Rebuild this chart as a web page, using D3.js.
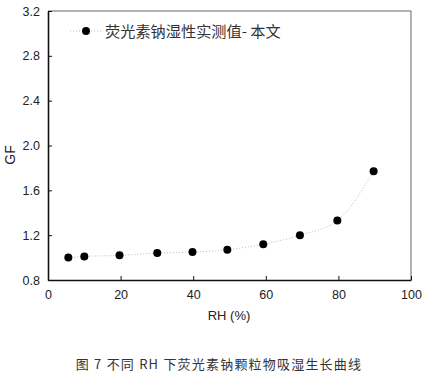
<!DOCTYPE html>
<html><head><meta charset="utf-8">
<script src="https://cdn.jsdelivr.net/npm/d3@7"></script>
<style>body{margin:0;background:#fff}svg{display:block}</style>
</head><body>
<svg id="c" width="424" height="372"></svg>
<script>
const rh = [5.6, 10, 19.7, 30.1, 39.8, 49.4, 59.3, 69.4, 79.7, 89.7];
const gf = [1.00, 1.01, 1.02, 1.04, 1.05, 1.07, 1.12, 1.20, 1.33, 1.77];
const xTicks = [0, 20, 40, 60, 80, 100];
const yTicks = [0.8, 1.2, 1.6, 2.0, 2.4, 2.8, 3.2];
const legendLabel = "荧光素钠湿性实测值- 本文";
const xLabel = "RH (%)";
const yLabel = "GF";
const caption = "图 7 不同 RH 下荧光素钠颗粒物吸湿生长曲线";

const svg = d3.select("#c");
const L = 48, R = 411, T = 11, B = 280;
const x = d3.scaleLinear().domain([0, 100]).range([L, R]);
const y = d3.scaleLinear().domain([0.8, 3.2]).range([B, T]);
const font = "Liberation Sans, Arial, sans-serif";

svg.append("line").attr("x1", L).attr("x2", R).attr("y1", T).attr("y2", T).attr("stroke", "#666").attr("stroke-width", 1);
svg.append("line").attr("x1", R).attr("x2", R).attr("y1", T).attr("y2", B).attr("stroke", "#666").attr("stroke-width", 1);

const xa = svg.append("g").attr("transform", `translate(0,${B})`)
  .call(d3.axisBottom(x).tickValues(xTicks).tickSizeInner(-4).tickSizeOuter(0).tickPadding(8).tickFormat(d3.format("d")));
const ya = svg.append("g").attr("transform", `translate(${L},0)`)
  .call(d3.axisLeft(y).tickValues(yTicks).tickSizeInner(-4).tickSizeOuter(0).tickPadding(8).tickFormat(d3.format(".1f")));
[xa, ya].forEach(a => {
  a.select(".domain").attr("stroke", "#111").attr("stroke-width", 1.6);
  a.selectAll(".tick line").attr("stroke", "#111");
  a.selectAll("text").attr("font-family", font).attr("font-size", 12.5).attr("fill", "#222");
});
xa.selectAll("text").attr("dy", "0.9em");

const line = d3.line().x((d, i) => x(rh[i])).y(d => y(d)).curve(d3.curveMonotoneX);
svg.append("path").attr("d", line(gf)).attr("fill", "none").attr("stroke", "#bbb")
  .attr("stroke-width", 1).attr("stroke-dasharray", "1,2");

svg.selectAll("circle.pt").data(gf).enter().append("circle").attr("class", "pt")
  .attr("cx", (d, i) => x(rh[i])).attr("cy", d => y(d)).attr("r", 4).attr("fill", "#000");

svg.append("line").attr("x1", 70).attr("x2", 103).attr("y1", 31).attr("y2", 31)
  .attr("stroke", "#bbb").attr("stroke-dasharray", "1,2");
svg.append("circle").attr("cx", 86).attr("cy", 31).attr("r", 4).attr("fill", "#000");
svg.append("text").attr("x", 105).attr("y", 36.5).text(legendLabel)
  .attr("font-family", "Noto Sans CJK SC, sans-serif").attr("font-size", 15.2).attr("fill", "#333");

svg.append("text").attr("x", 229).attr("y", 320).attr("text-anchor", "middle").text(xLabel)
  .attr("font-family", font).attr("font-size", 13).attr("fill", "#222");
svg.append("text").attr("transform", `translate(15,155) rotate(-90)`).attr("text-anchor", "middle").text(yLabel)
  .attr("font-family", font).attr("font-size", 14).attr("fill", "#222");

svg.append("text").attr("x", 219).attr("y", 369).attr("text-anchor", "middle").text(caption)
  .attr("font-family", "Noto Sans CJK SC, sans-serif").attr("font-size", 13).attr("letter-spacing", 1.2)
  .attr("fill", "#333");
</script>
</body></html>
